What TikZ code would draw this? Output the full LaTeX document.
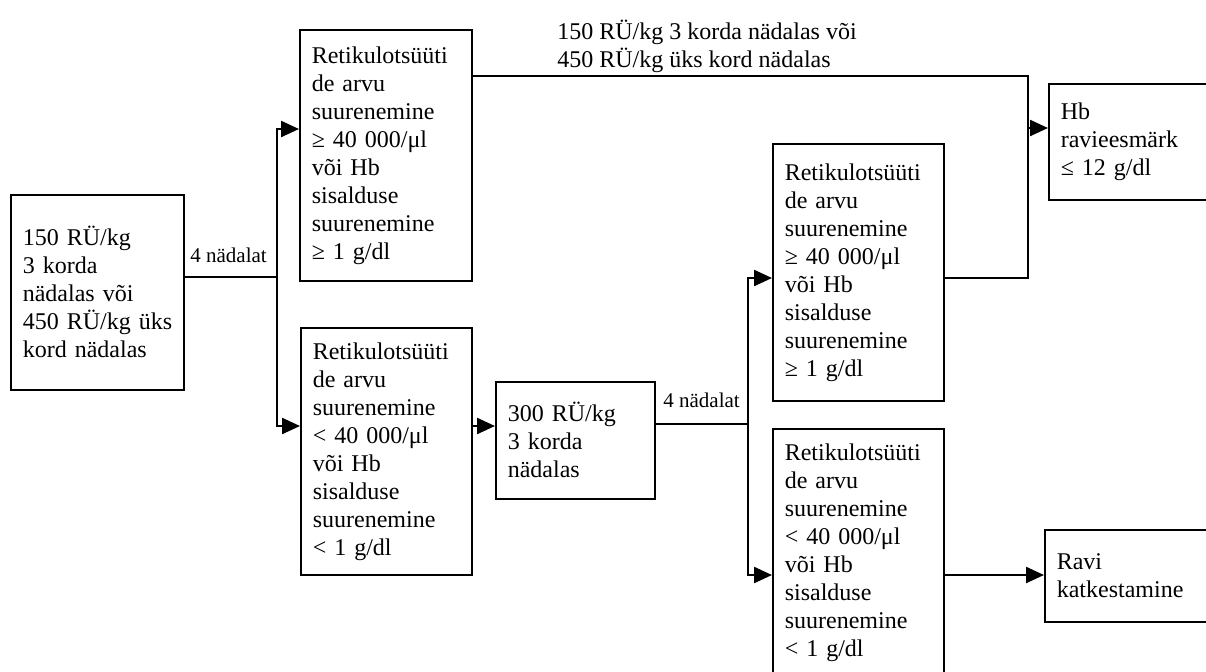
\documentclass[tikz,border=0pt]{standalone}
\usepackage{fontspec}
\setmainfont{Liberation Serif}
\usetikzlibrary{arrows.meta}

\tikzset{
  box/.style = {draw, line width=0.8pt, anchor=north west, align=left,
                inner xsep=6pt, inner ysep=0pt,
                font=\fontsize{12}{14}\selectfont},
  line/.style = {line width=1.2pt},
  arr/.style = {line width=1.2pt, -{Triangle[length=9pt,width=8pt]}},
  weeks/.style = {anchor=base west, inner sep=0pt,
                  font=\fontsize{10.5}{12}\selectfont}
}

\begin{document}
\begin{tikzpicture}[x=0.5pt,y=-0.5pt]
    \path[use as bounding box, clip] (0,0) rectangle (1206,671);

    % boxes
    \node [box, minimum width=86.5pt, text width=74.5pt, minimum height=97.5pt] (A) at (10,194)
      {150 RÜ/kg\\3 korda\\nädalas või\\\mbox{450 RÜ/kg üks}\\kord nädalas};
    \node [box, minimum width=86pt, text width=74pt, minimum height=125.5pt] (B) at (299,29)
      {Retikulotsüüti\\de arvu\\suurenemine\\≥ 40 000/μl\\või Hb\\sisalduse\\suurenemine\\≥ 1 g/dl};
    \node [box, minimum width=85.5pt, text width=73.5pt, minimum height=123.5pt] (C) at (300,327)
      {Retikulotsüüti\\de arvu\\suurenemine\\< 40 000/μl\\või Hb\\sisalduse\\suurenemine\\< 1 g/dl};
    \node [box, minimum width=79.5pt, text width=67.5pt, minimum height=58.5pt] (D) at (495,381)
      {300 RÜ/kg\\3 korda\\nädalas};
    \node [box, minimum width=85.5pt, text width=73.5pt, minimum height=128.5pt] (E) at (772,143)
      {Retikulotsüüti\\de arvu\\suurenemine\\≥ 40 000/μl\\või Hb\\sisalduse\\suurenemine\\≥ 1 g/dl};
    \node [box, minimum width=85.5pt, text width=73.5pt, minimum height=123.5pt] (F) at (772,428)
      {Retikulotsüüti\\de arvu\\suurenemine\\< 40 000/μl\\või Hb\\sisalduse\\suurenemine\\< 1 g/dl};
    \node [box, minimum width=90pt, text width=78pt, minimum height=58pt] (Hb) at (1048,83)
      {Hb\\ravieesmärk\\≤ 12 g/dl};
    \node [box, minimum width=90pt, text width=78pt, minimum height=46pt] (Ravi) at (1044,529)
      {Ravi\\katkestamine};

    % labels
    \node [weeks] (w1) at (190,262) {4 nädalat};
    \node [weeks] (w2) at (663,407) {4 nädalat};
    \node [anchor=north west, inner sep=0pt, align=left,
           font=\fontsize{12}{14}\selectfont] (dose) at (557,20)
      {150 RÜ/kg 3 korda nädalas või\\450 RÜ/kg üks kord nädalas};

    % connectors
    \coordinate (fork1) at (277,277);
    \coordinate (toB) at (277,129);
    \coordinate (toC) at (277,426);
    \coordinate (fork2) at (748,424);
    \coordinate (toE) at (748,278);
    \coordinate (toF) at (748,575);
    \coordinate (fromB) at (1028,76);
    \coordinate (join) at (1028,278);
    \coordinate (toHb) at (1028,128);

    \draw [line] (A.east |- fork1) -- (fork1);
    \draw [arr] (fork1) -- (toB) -- (B.west |- toB);
    \draw [arr] (fork1) -- (toC) -- (C.west |- toC);
    \draw [arr] (C.east |- toC) -- (D.west |- toC);
    \draw [line] (D.east |- fork2) -- (fork2);
    \draw [arr] (fork2) -- (toE) -- (E.west |- toE);
    \draw [arr] (fork2) -- (toF) -- (F.west |- toF);
    \draw [line] (B.east |- fromB) -- (fromB) -- (join) -- (E.east |- join);
    \draw [arr] (toHb) -- (Hb.west |- toHb);
    \draw [arr] (F.east |- toF) -- (Ravi.west |- toF);
\end{tikzpicture}
\end{document}
